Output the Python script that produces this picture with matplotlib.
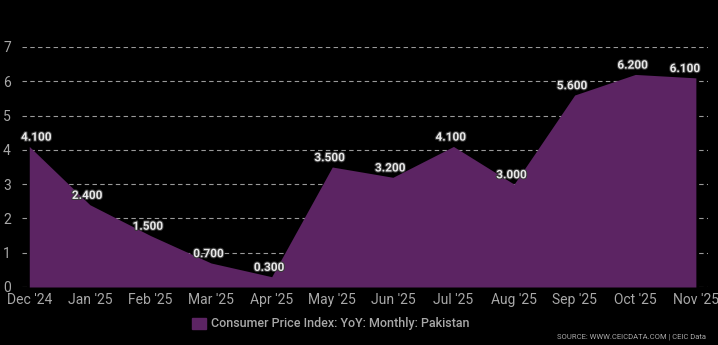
import matplotlib.pyplot as plt
import matplotlib.patheffects as pe
from matplotlib.patches import Patch

plt.rcParams['font.family'] = ['Roboto', 'DejaVu Sans']

months = ["Dec '24", "Jan '25", "Feb '25", "Mar '25", "Apr '25", "May '25",
          "Jun '25", "Jul '25", "Aug '25", "Sep '25", "Oct '25", "Nov '25"]
cpi = [4.1, 2.4, 1.5, 0.7, 0.3, 3.5, 3.2, 4.1, 3.0, 5.6, 6.2, 6.1]
yticks = [0, 1, 2, 3, 4, 5, 6, 7]

fill_color = "#5c2463"
text_gray = "#a8a8a8"

fig = plt.figure(figsize=(7.18, 3.45), dpi=100, facecolor="black")
ax = fig.add_axes([22 / 718, (345 - 287) / 345, (708 - 22) / 718, 240 / 345])
ax.set_facecolor("black")

x = list(range(len(cpi)))
ax.fill_between(x, 0, cpi, color=fill_color, linewidth=0, zorder=2)

ax.set_xlim(-0.12, 11.2)
ax.set_ylim(0, 7)
ax.set_yticks(yticks)
ax.set_yticklabels([str(t) for t in yticks])
ax.set_xticks(x)
ax.set_xticklabels(months)
ax.grid(axis="y", color="#9a9a9a", linestyle=(0, (4, 3)), linewidth=0.8, zorder=3)
ax.grid(axis="x", visible=False)
for s in ax.spines.values():
    s.set_visible(False)
ax.tick_params(axis="both", length=0, colors=text_gray, labelsize=10)
ax.tick_params(axis="y", pad=8)
ax.tick_params(axis="x", pad=4.5)

# labels sit above each point; the end ones are nudged inside the plot
for xi, v in zip(x, cpi):
    dx = -2
    if xi == 0:
        dx = 5
    elif xi == len(cpi) - 1:
        dx = -8
    ax.annotate(f"{v:.3f}", (xi, v), xytext=(dx, 2), textcoords="offset points",
                ha="center", va="bottom", fontsize=8.5, color="#e8e8e8", zorder=5,
                fontweight="bold",
                path_effects=[pe.withStroke(linewidth=1.5, foreground="#3a3a3a")])

handle = Patch(facecolor=fill_color, edgecolor=fill_color)
fig.legend([handle], ["Consumer Price Index: YoY: Monthly: Pakistan"],
           loc="center", bbox_to_anchor=(331 / 718, 1 - 324 / 345), frameon=False,
           labelcolor=text_gray, handlelength=1.1, handleheight=1.0,
           handletextpad=0.4, prop={"weight": "medium", "size": 9})

fig.text(706 / 718, 1 - 337 / 345, "SOURCE: WWW.CEICDATA.COM | CEIC Data",
         ha="right", va="center", fontsize=5.5, color=text_gray)

fig.savefig("out.png", dpi=100, facecolor="black")
